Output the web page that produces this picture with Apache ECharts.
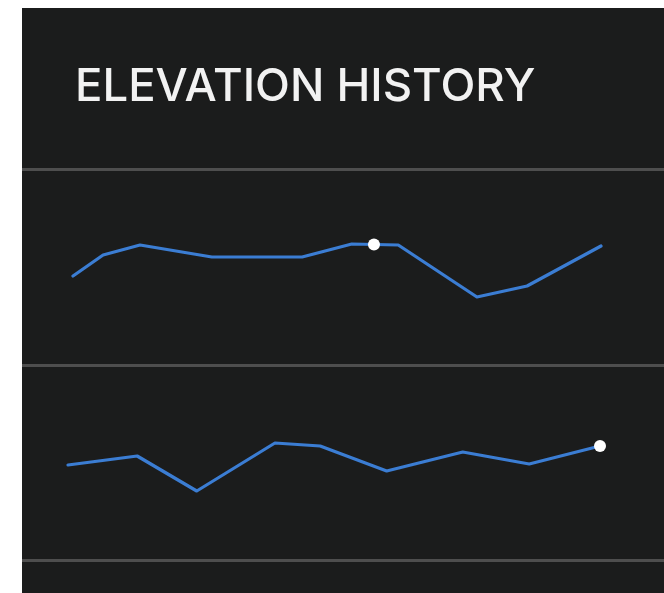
<!DOCTYPE html>
<html>
<head>
<meta charset="utf-8">
<script src="https://cdn.jsdelivr.net/npm/echarts@6/dist/echarts.min.js"></script>
<style>
html,body{margin:0;padding:0;background:#ffffff;}
#chart{width:664px;height:593px;}
</style>
</head>
<body>
<div id="chart"></div>
<script>
// Data
const titleText = 'ELEVATION HISTORY';

// Track 1: distance (relative units) and elevation
const track1Distance = [0, 0.57, 1.27, 2.63, 4.34, 5.28, 6.16, 7.65, 8.60, 10];
const track1Elevation = [44, 65, 75, 63, 63, 76, 75, 23, 34, 74];
const track1Marker = [5.70, 75.5];

// Track 2
const track2Distance = [0, 1.30, 2.42, 3.89, 4.74, 5.99, 7.42, 8.67, 10];
const track2Elevation = [55, 64, 29, 77, 74, 49, 68, 56, 74];
const track2Marker = [10, 74];

const lineColor = '#3b7dd3';

const chart = echarts.init(document.getElementById('chart'), null, {renderer: 'canvas'});

function pairs(xs, ys) { return xs.map((x, i) => [x, ys[i]]); }

const hiddenAxis = {
  type: 'value', show: false, splitLine: {show: false}
};

chart.setOption({
  backgroundColor: '#ffffff',
  animation: false,
  graphic: [
    {type: 'rect', shape: {x: 22, y: 8, width: 642, height: 585}, style: {fill: '#1b1c1c'}, z: -10},
    {type: 'line', shape: {x1: 22, y1: 169.5, x2: 664, y2: 169.5}, style: {stroke: '#4e4e4e', lineWidth: 3}, z: -9},
    {type: 'line', shape: {x1: 22, y1: 365.5, x2: 664, y2: 365.5}, style: {stroke: '#4e4e4e', lineWidth: 3}, z: -9},
    {type: 'line', shape: {x1: 22, y1: 560.5, x2: 664, y2: 560.5}, style: {stroke: '#4e4e4e', lineWidth: 3}, z: -9}
  ],
  title: {
    text: titleText,
    left: 70,
    top: 59,
    textStyle: {
      color: '#f2f2f2',
      fontFamily: 'Inter',
      fontWeight: 500,
      fontSize: 45.5
    }
  },
  grid: [
    {left: 73, width: 528, top: 220, height: 100},
    {left: 68, width: 532, top: 420, height: 100}
  ],
  xAxis: [
    Object.assign({gridIndex: 0, min: 0, max: 10}, hiddenAxis),
    Object.assign({gridIndex: 1, min: 0, max: 10}, hiddenAxis)
  ],
  yAxis: [
    Object.assign({gridIndex: 0, min: 0, max: 100}, hiddenAxis),
    Object.assign({gridIndex: 1, min: 0, max: 100}, hiddenAxis)
  ],
  series: [
    {
      type: 'line', xAxisIndex: 0, yAxisIndex: 0,
      data: pairs(track1Distance, track1Elevation),
      showSymbol: false, symbol: 'none',
      lineStyle: {color: lineColor, width: 3.2, join: 'round', cap: 'round'}
    },
    {
      type: 'scatter', xAxisIndex: 0, yAxisIndex: 0,
      data: [track1Marker], symbolSize: 12,
      itemStyle: {color: '#ffffff', opacity: 1}, z: 5
    },
    {
      type: 'line', xAxisIndex: 1, yAxisIndex: 1,
      data: pairs(track2Distance, track2Elevation),
      showSymbol: false, symbol: 'none',
      lineStyle: {color: lineColor, width: 3.2, join: 'round', cap: 'round'}
    },
    {
      type: 'scatter', xAxisIndex: 1, yAxisIndex: 1,
      data: [track2Marker], symbolSize: 12,
      itemStyle: {color: '#ffffff', opacity: 1}, z: 5
    }
  ]
});
</script>
</body>
</html>
